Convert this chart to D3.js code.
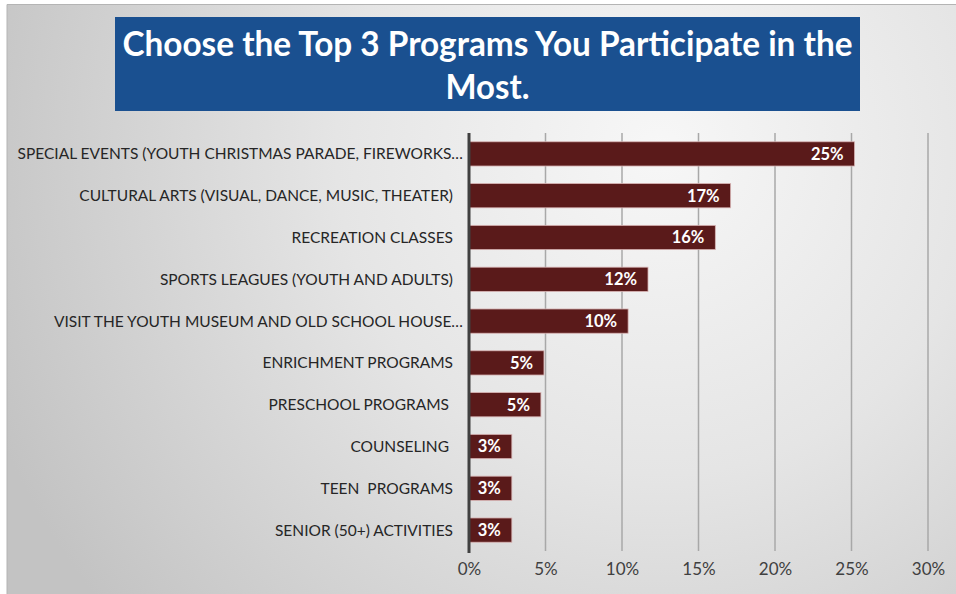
<!DOCTYPE html>
<html>
<head>
<meta charset="utf-8">
<script src="https://cdn.jsdelivr.net/npm/d3@7"></script>
<style>
  html, body { margin: 0; padding: 0; background: #ffffff; }
  svg { display: block; }
  text { font-family: Lato, "Open Sans", sans-serif; }
</style>
</head>
<body>
<svg id="chart" width="956" height="594"></svg>
<script>
// Survey responses: share of respondents naming each program in their top 3
const titleLines = ["Choose the Top 3 Programs You Participate in the", "Most."];
const categories = [
  "SPECIAL EVENTS (YOUTH CHRISTMAS PARADE, FIREWORKS…",
  "CULTURAL ARTS (VISUAL, DANCE, MUSIC, THEATER)",
  "RECREATION CLASSES",
  "SPORTS LEAGUES (YOUTH AND ADULTS)",
  "VISIT THE YOUTH MUSEUM AND OLD SCHOOL HOUSE…",
  "ENRICHMENT PROGRAMS",
  "PRESCHOOL PROGRAMS ",
  "COUNSELING ",
  "TEEN  PROGRAMS",
  "SENIOR (50+) ACTIVITIES"
];
const shares = [0.252, 0.171, 0.161, 0.117, 0.104, 0.049, 0.047, 0.028, 0.028, 0.028];
const tickValues = [0, 0.05, 0.10, 0.15, 0.20, 0.25, 0.30];

const svg = d3.select("#chart");
const W = 956, H = 594;

// Soft grey backdrop, brightest toward the upper middle
const defs = svg.append("defs");
const grad = defs.append("radialGradient")
  .attr("id", "bg").attr("gradientUnits", "userSpaceOnUse")
  .attr("cx", 660).attr("cy", 150).attr("r", 720);
grad.append("stop").attr("offset", "0%").attr("stop-color", "#f7f7f7");
grad.append("stop").attr("offset", "45%").attr("stop-color", "#e5e5e5");
grad.append("stop").attr("offset", "100%").attr("stop-color", "#c3c3c3");

svg.append("rect").attr("x", 7).attr("y", 4).attr("width", W - 7).attr("height", H - 4)
  .attr("fill", "url(#bg)");
svg.append("path").attr("d", `M7,${H} L7,4.5 L${W},4.5`)
  .attr("fill", "none").attr("stroke", "#b4b4b4").attr("stroke-width", 1);

// Title banner
const titleBox = { x: 115, y: 17, w: 745, h: 94 };
svg.append("rect")
  .attr("x", titleBox.x).attr("y", titleBox.y)
  .attr("width", titleBox.w).attr("height", titleBox.h)
  .attr("fill", "#1a5090");
const titleText = svg.append("g").selectAll("text").data(titleLines).join("text")
  .attr("x", titleBox.x + titleBox.w / 2)
  .attr("y", (d, i) => 56 + i * 43)
  .attr("text-anchor", "middle")
  .attr("fill", "#ffffff")
  .attr("font-weight", 700)
  .attr("font-size", 34)
  .text(d => d);
// keep the banner text as compact as the original typeface
titleText.each(function(d, i) {
  const len = this.getComputedTextLength();
  const target = i === 0 ? 730 : 84;
  if (len > target) {
    d3.select(this).attr("textLength", target).attr("lengthAdjust", "spacingAndGlyphs");
  }
});

// Scales
const plot = { left: 469, right: 928, top: 133, bottom: 551 };
const x = d3.scaleLinear().domain([0, 0.30]).range([plot.left, plot.right]);
const y = d3.scaleBand().domain(categories).range([plot.top, plot.bottom])
  .paddingInner(0.42).paddingOuter(0.21);

// Vertical gridlines
svg.append("g").selectAll("line").data(tickValues.filter(v => v > 0)).join("line")
  .attr("x1", d => x(d)).attr("x2", d => x(d))
  .attr("y1", plot.top).attr("y2", plot.bottom)
  .attr("stroke", "#a8a8a8").attr("stroke-width", 1.5);

// Bottom axis: tick labels only
const xAxis = svg.append("g")
  .attr("transform", `translate(0,${plot.bottom})`)
  .call(d3.axisBottom(x).tickValues(tickValues).tickFormat(d3.format(".0%")).tickSize(0).tickPadding(12));
xAxis.select(".domain").remove();
xAxis.selectAll("text")
  .attr("font-size", 17).attr("fill", "#404040")
  .attr("font-family", "Lato, 'Open Sans', sans-serif");

// Bars
svg.append("g").selectAll("rect").data(categories).join("rect")
  .attr("x", x(0))
  .attr("y", d => y(d))
  .attr("width", (d, i) => x(shares[i]) - x(0))
  .attr("height", y.bandwidth())
  .attr("fill", "#5a1a1a")
  .attr("stroke", "#d8b4b4").attr("stroke-width", 0.8);

// Value labels inside the bar ends
svg.append("g").selectAll("text").data(categories).join("text")
  .attr("x", (d, i) => x(shares[i]) - 11)
  .attr("y", d => y(d) + y.bandwidth() / 2)
  .attr("dy", "0.36em")
  .attr("text-anchor", "end")
  .attr("fill", "#ffffff")
  .attr("font-weight", 700)
  .attr("font-size", 16.5)
  .text((d, i) => d3.format(".0%")(shares[i]));

// Category axis line
svg.append("line")
  .attr("x1", x(0)).attr("x2", x(0))
  .attr("y1", plot.top).attr("y2", plot.bottom + 2)
  .attr("stroke", "#404040").attr("stroke-width", 3);

// Category labels (truncated names sit a little further right)
svg.append("g").selectAll("text").data(categories).join("text")
  .attr("x", d => d.endsWith("…") ? 463 : 453)
  .attr("y", d => y(d) + y.bandwidth() / 2)
  .attr("dy", "0.36em")
  .attr("text-anchor", "end")
  .attr("fill", "#262626")
  .attr("font-size", 15.5)
  .style("white-space", "pre")
  .text(d => d);
</script>
</body>
</html>
